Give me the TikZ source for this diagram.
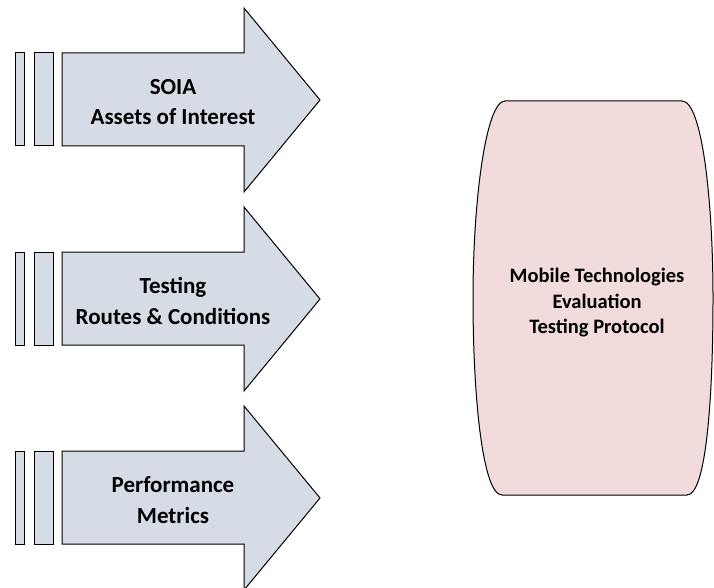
\documentclass[tikz,border=0pt]{standalone}
\usepackage{fontspec}
\setmainfont{Carlito}
\begin{document}
\begin{tikzpicture}[x=1pt,y=-1pt,
  block/.style={draw=black,line width=1pt,fill=arrowfill,line join=miter},
  label/.style={font=\bfseries\fontsize{23}{30.5}\selectfont,align=center,text=black,inner sep=0pt},
  core/.style={font=\bfseries\fontsize{20.5}{25.5}\selectfont,align=center,text=black,inner sep=0pt}]
\definecolor{arrowfill}{HTML}{D6DCE5}
\definecolor{corefill}{HTML}{F2DCDB}
\useasboundingbox (0,0) rectangle (714,588);

% three input arrows, each with two trailing bars
\foreach \cy/\name/\txt in {100/soia/{SOIA\\Assets of Interest},
                            299/routes/{Testing\\Routes \& Conditions},
                            498/metrics/{Performance\\Metrics}}{
  \draw[block] (15,\cy-47) rectangle (24,\cy+46);
  \draw[block] (34,\cy-47) rectangle (53,\cy+46);
  \draw[block] (62,\cy-47) -- (244,\cy-47) -- (244,\cy-92) -- (320,\cy)
     -- (244,\cy+92) -- (244,\cy+46) -- (62,\cy+46) -- cycle;
  \node[label] (\name) at (173,\cy+2) {\txt};
}

% protocol block with bulging sides
\draw[draw=black,line width=1pt,fill=corefill]
  (505,101) -- (682,101)
  .. controls (702,101) and (713,200) .. (713,298)
  .. controls (713,400) and (706,495) .. (687,495)
  -- (502,495)
  .. controls (483,495) and (473,400) .. (473,298)
  .. controls (473,200) and (486,101) .. (505,101) -- cycle;
\node[core] (protocol) at (597,303) {Mobile Technologies\\Evaluation\\Testing Protocol};
\end{tikzpicture}
\end{document}
